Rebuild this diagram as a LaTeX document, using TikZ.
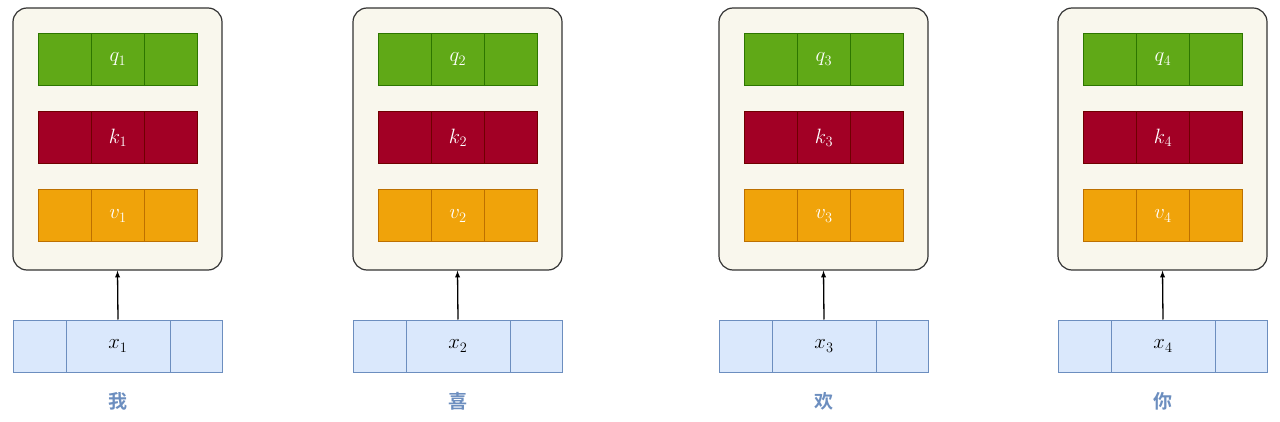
\documentclass[tikz,border=0pt]{standalone}
\usepackage{fontspec}
\newfontfamily\cjk{Noto Sans CJK SC}[BoldFont=* Bold]
\begin{document}
\begin{tikzpicture}[x=1pt,y=-1pt,
  cont/.style={draw=black!80,fill={rgb,255:red,249;green,247;blue,237},rounded corners=14pt,line width=1.2pt},
  cell/.style={minimum width=52.7pt,minimum height=52pt,inner sep=0pt,line width=1pt},
  qc/.style={cell,draw={rgb,255:red,45;green,118;blue,0},fill={rgb,255:red,96;green,169;blue,23},text=white},
  kc/.style={cell,draw={rgb,255:red,111;green,0;blue,0},fill={rgb,255:red,162;green,0;blue,37},text=white},
  vc/.style={cell,draw={rgb,255:red,189;green,112;blue,0},fill={rgb,255:red,240;green,163;blue,10},text=white},
  xc/.style={draw={rgb,255:red,108;green,142;blue,191},fill={rgb,255:red,218;green,232;blue,252},minimum height=52pt,inner sep=0pt,line width=1pt},
  lbl/.style={text={rgb,255:red,108;green,142;blue,191},font=\cjk\bfseries\fontsize{19}{19}\selectfont},
  arr/.style={-latex,line width=1.3pt}]
\useasboundingbox (0,0) rectangle (1280,422);
\foreach \L/\i/\w in {13/1/我,353/2/喜,719/3/欢,1058/4/你}{
  \node[cont,minimum width=209pt,minimum height=262pt] (c\i) at (\L+104.5,139) {};
  \foreach \r/\s/\y in {q/qc/59.5,k/kc/138,v/vc/216}{
    \node[\s] (\r\i a) at (\L+52.3,\y) {};
    \node[\s] (\r\i b) at (\L+105,\y) {\fontsize{20}{20}\selectfont$\r_{\i}$};
    \node[\s] (\r\i c) at (\L+157.7,\y) {};
  }
  \node[xc,minimum width=53pt] (x\i a) at (\L+26.5,346) {};
  \node[xc,minimum width=104pt] (x\i b) at (\L+105,346) {\fontsize{20}{20}\selectfont$x_{\i}$};
  \node[xc,minimum width=52pt] (x\i c) at (\L+183,346) {};
  \draw[arr] (x\i b.north) -- (c\i.south);
  \node[lbl] (w\i) at (\L+105,401) {\w};
}
\end{tikzpicture}
\end{document}
